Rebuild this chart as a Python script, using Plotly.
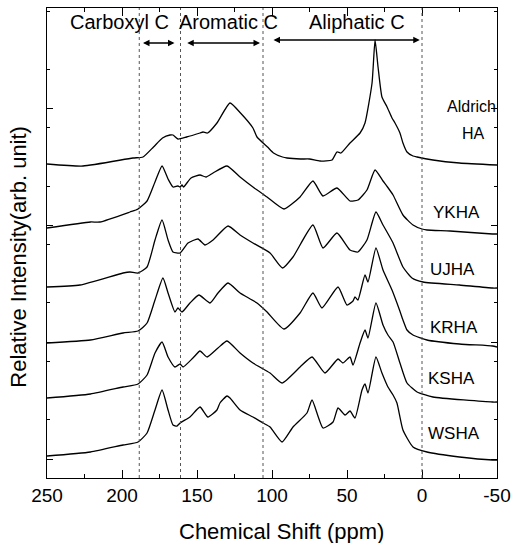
import plotly.graph_objects as go

# ---- data (ppm, relative intensity above each trace's own baseline) ----
aldrich_ppm = [250, 226, 192.7, 186, 179, 173, 168, 166, 162.7, 157, 148, 146, 143, 136.7, 128, 121, 112.7, 110, 103, 99, 93, 90, 81, 75, 68, 60, 56.7, 54, 48, 41.3, 38, 33.3, 31.3, 29.3, 26.7, 23.3, 20, 18, 14.7, 12.7, 10, 6, 3.3, -7.3, -25, -50]
aldrich_int = [1, -1, 7, 8, 18, 27, 30, 30, 26, 28, 32, 33, 32, 42, 62, 52, 37, 28, 18, 12, 8, 7, 6, 6, 4, 5, 13, 12, 22, 32, 42, 82, 125, 98, 68, 58, 47, 42, 32, 22, 13, 9, 8, 5, 2, 0]

ykha_ppm = [250, 221, 214.7, 194.7, 189.3, 183.3, 178, 173.3, 169.3, 166, 162.7, 161.3, 160, 159, 154, 148, 144, 139.3, 130, 121.3, 112.7, 103.3, 92, 81.3, 72.7, 66, 56.7, 48, 42.7, 36.7, 31.3, 26, 23, 19.3, 12.7, 6, 0, -3.3, -18.7, -47, -50]
ykha_int = [6, 12, 12, 22, 25, 33, 52, 68, 55, 47, 48, 47, 49, 47, 56, 59, 57, 61, 68, 57, 47, 37, 25, 37, 53, 38, 46, 33, 34, 44, 64, 53, 47, 39, 19, 9, 5, 4, 3, 0, 0]

ujha_ppm = [250, 228, 199.3, 194.7, 189.3, 183.3, 178, 173.3, 169.3, 166, 161.3, 156, 149.3, 144.7, 139.3, 129.3, 121.3, 112.7, 101.3, 93, 86, 72.7, 66, 56.7, 48, 42.7, 36.7, 30.7, 26, 19.3, 12.7, 6.7, -0.7, -25, -47, -50]
ujha_int = [1, 3, 15, 16, 15, 21, 48, 68, 48, 36, 35, 45, 49, 43, 48, 62, 53, 45, 35, 20, 31, 63, 40, 55, 38, 36, 48, 76, 63, 45, 21, 10, 6, 3, 0, 0]

krha_ppm = [250, 221, 199.3, 189.3, 183.3, 178, 172.7, 169.3, 164.7, 162.7, 160, 154.7, 148.7, 141.3, 136, 129.3, 121.3, 110, 103.3, 92, 81.3, 72.7, 66.7, 56, 50, 46, 44.7, 42.7, 38, 36, 30.7, 26, 20, 15, 12.7, 10, 6, -3.3, -25, -47, -50]
krha_int = [4, 7, 14, 16, 24, 47, 69, 54, 35, 39, 35, 44, 52, 44, 54, 64, 54, 44, 35, 18, 34, 54, 39, 60, 42, 46, 50, 47, 72, 65, 99, 77, 57, 37, 27, 17, 12, 7, 3, 1, 0]

ksha_ppm = [250, 221, 199.3, 189.3, 183.3, 178, 173.3, 169.3, 164.7, 161.3, 159.3, 152.7, 148, 143.3, 136, 130, 121.3, 112.7, 101.3, 93.3, 81.3, 73.3, 64.7, 56, 52.7, 48, 46, 41.3, 38, 36, 30.7, 26, 22.7, 19.3, 14.7, 10, 3.3, -7.3, -47, -50]
ksha_int = [4, 8, 15, 18, 27, 49, 60, 45, 35, 38, 35, 44, 51, 45, 54, 61, 49, 39, 29, 19, 35, 45, 29, 43, 39, 45, 37, 59, 72, 64, 99, 77, 67, 60, 39, 19, 10, 5, 0, 0]

wsha_ppm = [250, 221, 199.3, 189.3, 183.3, 178, 173.3, 169.3, 166, 163.3, 161.3, 154.7, 148, 142.7, 136.7, 134.7, 130, 128, 121.3, 112.7, 106, 101.3, 93.3, 86, 76.7, 73.3, 66, 59.3, 56, 51.3, 48, 44.7, 40, 38, 36, 30.7, 26.7, 22.7, 19.3, 16.7, 12.7, 6, -3.3, -25, -47, -50]
wsha_int = [4, 8, 15, 18, 27, 50, 70, 50, 35, 34, 37, 43, 53, 43, 50, 57, 64, 62, 50, 43, 37, 33, 18, 33, 47, 60, 32, 38, 52, 45, 49, 42, 70, 76, 67, 103, 87, 73, 65, 57, 30, 13, 8, 3, 0, 0]

series_names = ["Aldrich HA", "YKHA", "UJHA", "KRHA", "KSHA", "WSHA"]
series_ppm = [aldrich_ppm, ykha_ppm, ujha_ppm, krha_ppm, ksha_ppm, wsha_ppm]
series_int = [aldrich_int, ykha_int, ujha_int, krha_int, ksha_int, wsha_int]
stack_offsets = [313, 244, 190, 131, 76, 18]

region_bounds = [188.5, 161, 106, 0]
x_ticks = [250, 200, 150, 100, 50, 0, -50]

FONT = "Liberation Sans, Arial, sans-serif"

fig = go.Figure()
for name, xs, ys, off in zip(series_names, series_ppm, series_int, stack_offsets):
    fig.add_trace(go.Scatter(
        x=xs, y=[v + off for v in ys], mode="lines", name=name,
        line=dict(color="black", width=1.3, shape="spline", smoothing=0.5),
        showlegend=False, hoverinfo="skip"))

for b in region_bounds:
    fig.add_shape(type="line", xref="x", yref="paper", x0=b, x1=b, y0=0, y1=1,
                  line=dict(color="#555555", width=1, dash="dot"))

# double-headed arrows
for x_a, x_b, yv in [(187, 165, 435), (157.5, 108, 435), (100, 1.5, 438)]:
    fig.add_annotation(x=x_b, y=yv, ax=x_a, ay=yv, xref="x", yref="y", axref="x", ayref="y",
                       text="", showarrow=True, arrowhead=2, startarrowhead=2,
                       arrowside="end+start", arrowsize=1, arrowwidth=1.3, arrowcolor="black",
                       startarrowsize=1)

for txt, xv in [("Carboxyl C", 201.5), ("Aromatic C", 129), ("Aliphatic C", 43.3)]:
    fig.add_annotation(x=xv, y=456, xref="x", yref="y", text=txt, showarrow=False,
                       font=dict(family=FONT, size=20, color="black"))

labels = [("Aldrich", -33.3, 372, 16), ("HA", -34, 345, 16), ("YKHA", -22.7, 266, 17),
          ("UJHA", -20, 209, 17), ("KRHA", -21.3, 151, 17), ("KSHA", -19.7, 100, 17),
          ("WSHA", -21.3, 45, 17)]
for txt, xv, yv, fs in labels:
    fig.add_annotation(x=xv, y=yv, xref="x", yref="y", text=txt, showarrow=False,
                       font=dict(family=FONT, size=fs, color="black"))

fig.add_annotation(x=-0.062, y=0.471, xref="paper", yref="paper", text="Relative Intensity(arb. unit)",
                   textangle=-90, showarrow=False, xanchor="center", yanchor="middle",
                   font=dict(family=FONT, size=22, color="black"))
fig.add_annotation(x=93.5, y=-0.113, xref="x", yref="paper", text="Chemical Shift (ppm)",
                   showarrow=False, xanchor="center", yanchor="middle",
                   font=dict(family=FONT, size=22, color="black"))

fig.update_layout(
    width=512, height=543,
    margin=dict(l=47, r=15, t=8, b=65, autoexpand=False),
    paper_bgcolor="white", plot_bgcolor="white",
    font=dict(family=FONT, color="black"),
    xaxis=dict(range=[250, -50], tickvals=x_ticks, ticktext=[str(v) for v in x_ticks],
               ticks="inside", ticklen=8, tickwidth=1, tickcolor="black",
               minor=dict(dtick=25, tick0=0, ticks="inside", ticklen=4, tickcolor="black"),
               showline=True, linecolor="black", linewidth=1.2, mirror="allticks",
               showgrid=False, zeroline=False, automargin=False,
               tickfont=dict(size=19, family=FONT)),
    yaxis=dict(range=[0, 470], tick0=19, dtick=116.7, ticks="inside", ticklen=6,
               tickcolor="black", showticklabels=False, automargin=False,
               minor=dict(dtick=58.35, ticks="inside", ticklen=3, tickcolor="black"),
               showline=True, linecolor="black", linewidth=1.2, mirror="allticks",
               showgrid=False, zeroline=False),
)

fig.write_html("out.html", config={"displayModeBar": False},
               post_script="document.body.style.margin='0';document.body.style.overflow='hidden';")
